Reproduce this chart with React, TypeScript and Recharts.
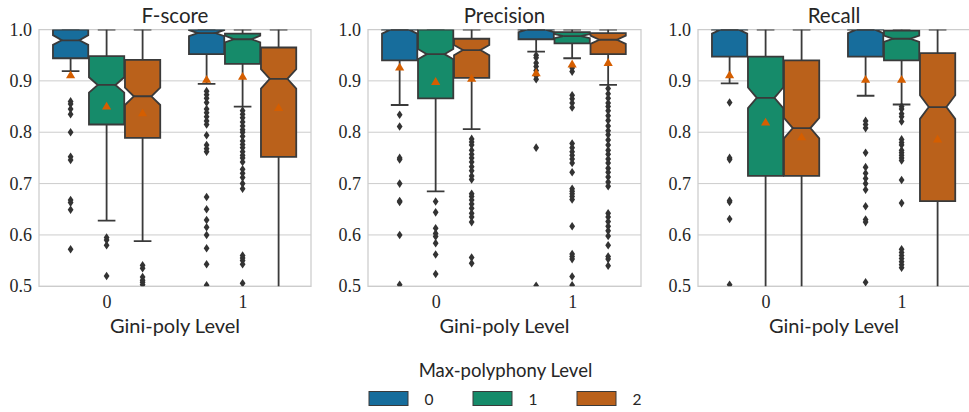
import React from 'react';
import { BarChart, Bar, XAxis, YAxis, CartesianGrid, ReferenceArea } from 'recharts';

// ---- data ----
const categories = ['0', '1'];
const hueLabels = ['0', '1', '2'];
const hueColors = ['#176d9c', '#168b6a', '#ba611b'];
const meanColor = '#d55e00';
const panelTitles = ['F-score', 'Precision', 'Recall'];
const yTicks = [0.5, 0.6, 0.7, 0.8, 0.9, 1.0];
const yDomain = [0.5, 1.0];

// box tuples: [q1, median, q3, notchLow, notchHigh, whiskerLow, whiskerHigh, mean]
// order: cat0 hue0, cat0 hue1, cat0 hue2, cat1 hue0, cat1 hue1, cat1 hue2
const fscoreBoxes = [
  [0.944, 0.979, 1.0, 0.970, 0.989, 0.919, 1.0, 0.911],
  [0.815, 0.892, 0.948, 0.877, 0.907, 0.628, 1.0, 0.850],
  [0.789, 0.870, 0.941, 0.853, 0.887, 0.588, 1.0, 0.837],
  [0.952, 0.993, 1.0, 0.987, 0.999, 0.894, 1.0, 0.902],
  [0.933, 0.981, 0.992, 0.975, 0.988, 0.850, 1.0, 0.908],
  [0.752, 0.904, 0.965, 0.885, 0.923, 0.40, 1.0, 0.847],
];
const fscoreOutliers = [
  [0.860, 0.855, 0.845, 0.835, 0.800, 0.752, 0.746, 0.668, 0.663, 0.649, 0.572],
  [0.595, 0.590, 0.580, 0.520],
  [0.541, 0.535, 0.518, 0.512, 0.508, 0.503],
  [0.880, 0.873, 0.866, 0.858, 0.845, 0.838, 0.830, 0.822, 0.815, 0.794, 0.775, 0.768, 0.762, 0.674, 0.650, 0.629, 0.615, 0.600, 0.574, 0.543, 0.502],
  [0.842, 0.835, 0.828, 0.820, 0.812, 0.805, 0.800, 0.792, 0.783, 0.776, 0.770, 0.762, 0.755, 0.750, 0.742, 0.728, 0.720, 0.712, 0.700, 0.690, 0.560, 0.555, 0.550, 0.543, 0.506],
  [],
];

const precisionBoxes = [
  [0.940, 1.0, 1.0, 0.992, 1.008, 0.853, 1.0, 0.926],
  [0.866, 0.952, 1.0, 0.942, 0.962, 0.685, 1.0, 0.898],
  [0.906, 0.960, 0.982, 0.950, 0.970, 0.806, 1.0, 0.904],
  [0.981, 1.0, 1.0, 0.995, 1.005, 0.957, 1.0, 0.915],
  [0.973, 0.987, 0.995, 0.983, 0.991, 0.944, 1.0, 0.932],
  [0.952, 0.980, 0.993, 0.972, 0.988, 0.892, 1.0, 0.935],
];
const precisionOutliers = [
  [0.834, 0.811, 0.750, 0.747, 0.700, 0.666, 0.664, 0.600, 0.503],
  [0.665, 0.644, 0.613, 0.603, 0.597, 0.584, 0.562, 0.524],
  [0.787, 0.781, 0.775, 0.765, 0.757, 0.750, 0.742, 0.733, 0.725, 0.715, 0.708, 0.680, 0.675, 0.668, 0.660, 0.652, 0.642, 0.635, 0.625, 0.556, 0.545],
  [0.950, 0.945, 0.935, 0.928, 0.920, 0.910, 0.903, 0.770, 0.501],
  [0.925, 0.918, 0.872, 0.865, 0.857, 0.848, 0.778, 0.770, 0.762, 0.755, 0.748, 0.740, 0.722, 0.690, 0.685, 0.680, 0.675, 0.669, 0.617, 0.563, 0.558, 0.553, 0.519, 0.502],
  [0.885, 0.875, 0.866, 0.857, 0.850, 0.842, 0.832, 0.823, 0.812, 0.803, 0.795, 0.785, 0.775, 0.765, 0.757, 0.748, 0.740, 0.730, 0.722, 0.713, 0.703, 0.695, 0.642, 0.635, 0.626, 0.617, 0.608, 0.598, 0.580, 0.558, 0.553, 0.540],
];

const recallBoxes = [
  [0.947, 1.0, 1.0, 0.992, 1.008, 0.895, 1.0, 0.911],
  [0.715, 0.867, 0.947, 0.847, 0.887, 0.40, 1.0, 0.819],
  [0.715, 0.808, 0.940, 0.788, 0.828, 0.40, 1.0, 0.790],
  [0.947, 1.0, 1.0, 0.993, 1.007, 0.871, 1.0, 0.902],
  [0.940, 0.982, 0.998, 0.976, 0.988, 0.854, 1.0, 0.902],
  [0.666, 0.849, 0.954, 0.826, 0.872, 0.40, 1.0, 0.786],
];
const recallOutliers = [
  [0.858, 0.750, 0.747, 0.667, 0.664, 0.631, 0.503],
  [],
  [],
  [0.822, 0.815, 0.808, 0.760, 0.732, 0.720, 0.710, 0.700, 0.688, 0.656, 0.630, 0.625, 0.508],
  [0.850, 0.845, 0.836, 0.830, 0.821, 0.786, 0.780, 0.775, 0.765, 0.760, 0.755, 0.750, 0.745, 0.707, 0.662, 0.572, 0.566, 0.560, 0.554, 0.548, 0.542, 0.536],
  [],
];

const panelBoxes = [fscoreBoxes, precisionBoxes, recallBoxes];
const panelOutliers = [fscoreOutliers, precisionOutliers, recallOutliers];

// ---- styling / layout ----
const EDGE = '#3a3a3a';
const TEXT = '#262626';
const GRID = '#cccccc';
const SANS = 'Lato';
const SERIF = 'Liberation Serif';
const LW = 1.8;

const panelLayout = [
  { left: 0, yw: 39, right: 9 },
  { left: 330, yw: 38, right: 9 },
  { left: 660, yw: 38, right: 10 },
];
const CH_W = 320;
const CH_H = 340;

function buildRows(p: number) {
  return categories.map((cat, ci) => {
    const row: any = { cat };
    hueLabels.forEach((_, h) => {
      row['box' + h] = panelBoxes[p][ci * 3 + h];
      row['out' + h] = panelOutliers[p][ci * 3 + h];
    });
    return row;
  });
}

function YTick(props: any) {
  const { x, y, payload } = props;
  return (
    <text x={x} y={y} dy={6} textAnchor="end" fontFamily={SERIF} fontSize={18} fill={TEXT} style={{ fontFamily: SERIF, fontSize: 18, fill: TEXT }}>
      {Number(payload.value).toFixed(1)}
    </text>
  );
}

function XTick(props: any) {
  const { x, y, payload } = props;
  return (
    <text x={x} y={y} dy={12} textAnchor="middle" fontFamily={SERIF} fontSize={18} fill={TEXT} style={{ fontFamily: SERIF, fontSize: 18, fill: TEXT }}>
      {payload.value}
    </text>
  );
}

function makeShape(p: number, h: number) {
  return (props: any) => {
    const { x, y, width, height, payload } = props;
    if (!payload || width == null) return <g />;
    const b = payload['box' + h];
    const outs: number[] = payload['out' + h] || [];
    const [q1, med, q3, nlo, nhi, wlo, whi, mean] = b;
    const yTop = Math.min(y, y + height);
    const yBot = Math.max(y, y + height);
    const k = (yBot - yTop) / (q3 - q1);
    const py = (v: number) => yTop + (q3 - v) * k;
    const cx = x + width / 2;
    const bw = width * 0.98;
    const L = cx - bw / 2;
    const R = cx + bw / 2;
    const cl = cx - bw / 4;
    const cr = cx + bw / 4;
    const clipTop = py(yDomain[1]);
    const clipBot = py(yDomain[0]);
    const id = `bclip-${p}-${payload.cat}-${h}`;
    const pts = [
      [L, py(q1)], [R, py(q1)], [R, py(nlo)], [cr, py(med)], [R, py(nhi)], [R, py(q3)],
      [L, py(q3)], [L, py(nhi)], [cl, py(med)], [L, py(nlo)], [L, py(q1)],
    ];
    const d = 'M' + pts.map((pt) => pt[0].toFixed(2) + ',' + pt[1].toFixed(2)).join('L') + 'Z';
    const my = py(mean);
    return (
      <g>
        <defs>
          <clipPath id={id}>
            <rect x={L - 30} y={clipTop} width={bw + 60} height={clipBot - clipTop} />
          </clipPath>
        </defs>
        <g clipPath={`url(#${id})`}>
          <line x1={cx} x2={cx} y1={py(q1)} y2={py(wlo)} stroke={EDGE} strokeWidth={LW} />
          <line x1={cx} x2={cx} y1={py(q3)} y2={py(whi)} stroke={EDGE} strokeWidth={LW} />
          <line x1={cl} x2={cr} y1={py(wlo)} y2={py(wlo)} stroke={EDGE} strokeWidth={LW} />
          <line x1={cl} x2={cr} y1={py(whi)} y2={py(whi)} stroke={EDGE} strokeWidth={LW} />
          <path d={d} fill={hueColors[h]} stroke={EDGE} strokeWidth={LW} strokeLinejoin="miter" />
          <line x1={cl} x2={cr} y1={py(med)} y2={py(med)} stroke={EDGE} strokeWidth={LW} />
          {outs.map((v, i) => {
            const oy = py(v);
            return (
              <path
                key={i}
                d={`M${cx},${oy - 4.3}L${cx + 2.9},${oy}L${cx},${oy + 4.3}L${cx - 2.9},${oy}Z`}
                fill="#333333"
              />
            );
          })}
          <path d={`M${cx},${my - 4.8}L${cx + 4.6},${my + 3}L${cx - 4.6},${my + 3}Z`} fill={meanColor} />
        </g>
      </g>
    );
  };
}

function Panel({ p }: { p: number }) {
  const lay = panelLayout[p];
  const rows = buildRows(p);
  return (
    <div style={{ position: 'absolute', left: lay.left, top: 0 }}>
      <BarChart
        width={CH_W}
        height={CH_H}
        data={rows}
        margin={{ top: 29.5, right: lay.right, bottom: 3.7, left: 0 }}
        barCategoryGap="10%"
        barGap={0}
      >
        <CartesianGrid vertical={false} stroke={GRID} strokeWidth={1} />
        <XAxis
          dataKey="cat"
          axisLine={false}
          tickLine={false}
          tickSize={0}
          tickMargin={9.7}
          height={50}
          tick={<XTick />}
          label={{ value: 'Gini-poly Level', position: 'insideBottom', offset: 3.6, fontFamily: SANS, fontSize: 20, fill: TEXT }}
        />
        <YAxis
          type="number"
          domain={yDomain}
          allowDataOverflow
          ticks={yTicks}
          width={lay.yw}
          axisLine={false}
          tickLine={false}
          tickSize={0}
          tickMargin={7}
          tick={<YTick />}
        />
        <ReferenceArea y1={yDomain[0]} y2={yDomain[1]} fill="none" stroke={GRID} strokeWidth={1.25} ifOverflow="visible" />
        {hueLabels.map((hl, h) => (
          <Bar
            key={hl}
            dataKey={(d: any) => [d['box' + h][0], d['box' + h][2]]}
            fill={hueColors[h]}
            isAnimationActive={false}
            shape={makeShape(p, h)}
          />
        ))}
      </BarChart>
    </div>
  );
}

export default function App() {
  const titleX = [175, 504.5, 834];
  const swatchX = [369, 473, 577];
  return (
    <div style={{ position: 'absolute', left: 0, top: 0, width: 969, height: 412, overflow: 'hidden', background: '#ffffff' }}>
      {panelTitles.map((_, p) => (
        <Panel key={p} p={p} />
      ))}
      <svg width={969} height={412} style={{ position: 'absolute', left: 0, top: 0, pointerEvents: 'none' }}>
        {panelTitles.map((t, p) => (
          <text key={t} x={titleX[p]} y={22.7} textAnchor="middle" style={{ fontFamily: SANS, fontSize: 20.5, fill: TEXT }}>
            {t}
          </text>
        ))}
        <text x={505.5} y={376.7} textAnchor="middle" style={{ fontFamily: SANS, fontSize: 18.5, fill: TEXT }}>
          Max-polyphony Level
        </text>
        {hueLabels.map((hl, h) => (
          <g key={hl}>
            <rect x={swatchX[h]} y={391.5} width={39} height={14} fill={hueColors[h]} stroke={EDGE} strokeWidth={1} />
            <text x={swatchX[h] + 60} y={405} textAnchor="middle" style={{ fontFamily: SANS, fontSize: 15.5, fill: TEXT }}>
              {hl}
            </text>
          </g>
        ))}
      </svg>
    </div>
  );
}
